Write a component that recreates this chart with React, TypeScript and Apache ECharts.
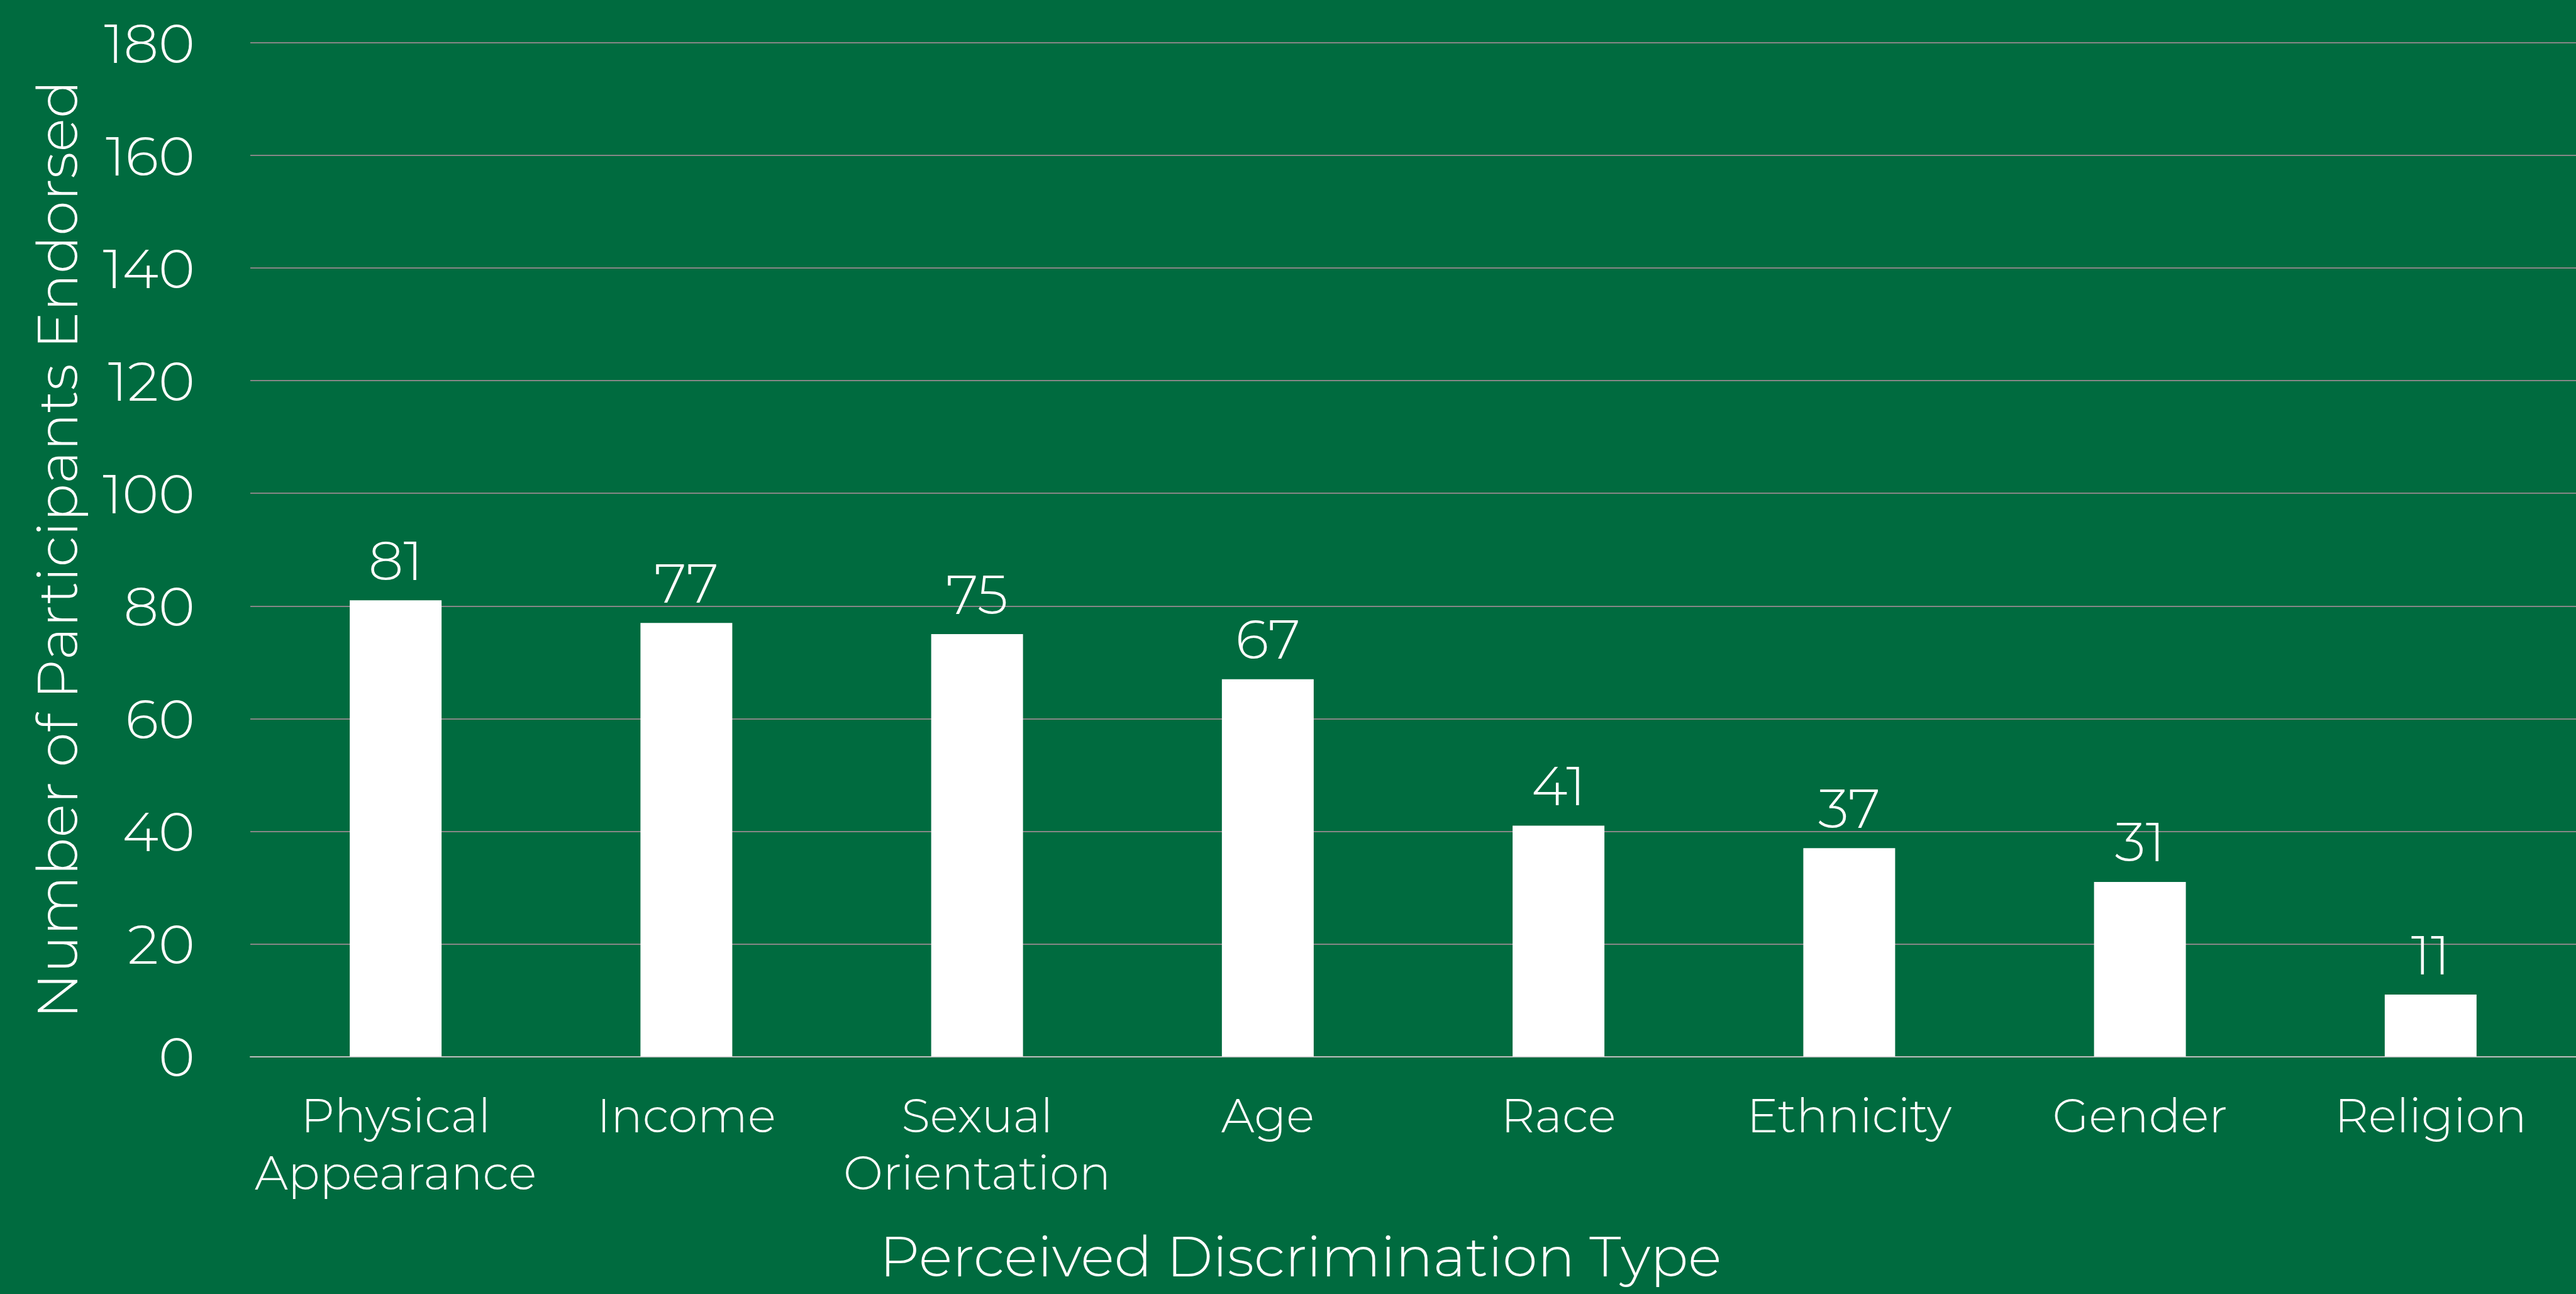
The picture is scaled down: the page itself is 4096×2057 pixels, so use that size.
import React, { useEffect, useRef } from "react";
import * as echarts from "echarts";

const categories = [
  "Physical\nAppearance",
  "Income",
  "Sexual\nOrientation",
  "Age",
  "Race",
  "Ethnicity",
  "Gender",
  "Religion",
];
const values = [81, 77, 75, 67, 41, 37, 31, 11];
const yTicks = { min: 0, max: 180, interval: 20 };
const yAxisTitle = "Number of Participants Endorsed";
const xAxisTitle = "Perceived Discrimination Type";

const FONT = "Montserrat, 'Open Sans', Lato, sans-serif";
const FW = 300;
const FS = 88;

export default function App() {
  const ref = useRef<HTMLDivElement>(null);
  useEffect(() => {
    document.body.style.margin = "0";
    const chart = echarts.init(ref.current!, null, { renderer: "svg" });
    chart.setOption({
      animation: false,
      backgroundColor: "#006B3F",
      title: {
        text: xAxisTitle,
        left: 2068,
        top: 1952,
        textAlign: "center",
        padding: 0,
        textStyle: { color: "#ffffff", fontFamily: FONT, fontWeight: FW, fontSize: 89 },
      },
      grid: { left: 398, right: 0, top: 68, bottom: 377.5, containLabel: false },
      xAxis: {
        type: "category",
        data: categories,
        axisLine: { show: true, lineStyle: { color: "#bfbfbf", width: 2 } },
        axisTick: { show: false },
        axisLabel: {
          color: "#ffffff",
          fontFamily: FONT,
          fontWeight: FW,
          fontSize: 75,
          lineHeight: 91,
          margin: 48,
          interval: 0,
        },
      },
      yAxis: {
        type: "value",
        min: yTicks.min,
        max: yTicks.max,
        interval: yTicks.interval,
        name: yAxisTitle,
        nameLocation: "middle",
        nameGap: 263,
        nameRotate: 90,
        nameTextStyle: { color: "#ffffff", fontFamily: FONT, fontWeight: FW, fontSize: 89.5 },
        axisLine: { show: false },
        axisTick: { show: false },
        axisLabel: {
          color: "#ffffff",
          fontFamily: FONT,
          fontWeight: FW,
          fontSize: FS,
          margin: 88,
        },
        splitLine: { show: true, lineStyle: { color: "#878787", width: 2 } },
      },
      series: [
        {
          type: "bar",
          data: values,
          barWidth: 146,
          itemStyle: { color: "#ffffff" },
          label: {
            show: true,
            position: "top",
            distance: 20,
            color: "#ffffff",
            fontFamily: FONT,
            fontWeight: FW,
            fontSize: FS,
          },
        },
      ],
    });
    return () => chart.dispose();
  }, []);
  return <div ref={ref} style={{ width: 4096, height: 2057 }} />;
}
